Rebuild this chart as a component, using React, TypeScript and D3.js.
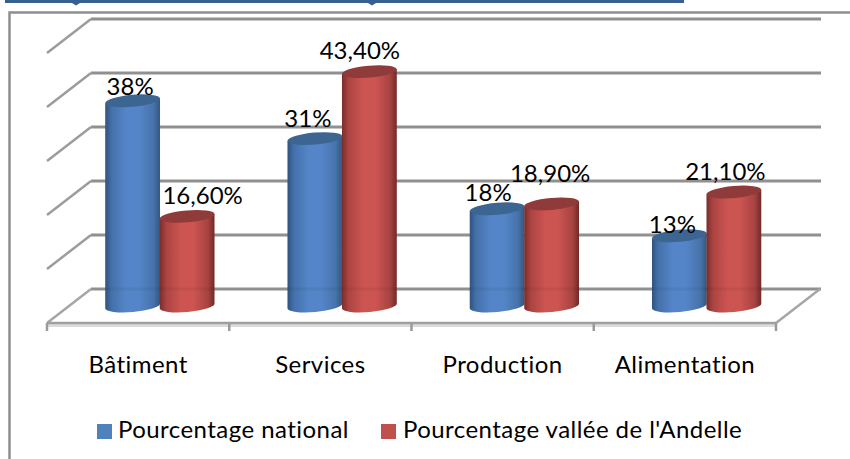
import React from "react";
import * as d3 from "d3";

const categories = ["Bâtiment", "Services", "Production", "Alimentation"];
const seriesNames = ["Pourcentage national", "Pourcentage vallée de l'Andelle"];
const national = [38, 31, 18, 13];
const vallee = [16.6, 43.4, 18.9, 21.1];
const nationalLabels = ["38%", "31%", "18%", "13%"];
const valleeLabels = ["16,60%", "43,40%", "18,90%", "21,10%"];
const gridTicks = [0, 10, 20, 30, 40, 50];

const W = 850, H = 459;
const depthX = 44, depthY = 34;
const floorLeft = 47, floorRight = 776, frontBase = 323;
const x = d3.scaleBand<string>().domain(categories).range([floorLeft, floorRight]);
const yBack = d3.scaleLinear().domain([0, 50]).range([289, 19]);
const yBar = d3.scaleLinear().domain([0, 50]).range([306, 36]);
const rx = 27.5, ry = 6, tilt = -5;

const natOffsets: [number, number][] = [[-2.5, -6], [-7, -12], [-9, -8], [-7, -3]];
const valOffsets: [number, number][] = [[15, -12], [-10, -13], [-2, -22], [-9, -12]];

const FONT = "Lato, 'Open Sans', sans-serif";
const GRID = "#909090";
const textStyle = { fontVariantLigatures: "none", letterSpacing: "0.45px" } as React.CSSProperties;
const labelStyle = { fontVariantLigatures: "none", letterSpacing: "0px" } as React.CSSProperties;

function Cylinder({ cx, value, id, top }: { cx: number; value: number; id: string; top: string }) {
  const yT = yBar(value), yB = yBar(0);
  const t = (tilt * Math.PI) / 180;
  const ex = rx * Math.cos(t), ey = rx * Math.sin(t);
  const path = `M${cx - ex},${yT - ey} L${cx - ex},${yB - ey} A${rx},${ry} ${tilt} 0 0 ${cx + ex},${yB + ey} L${cx + ex},${yT + ey} Z`;
  return (
    <g>
      <path d={path} fill={`url(#${id})`} />
      <line x1={cx - rx} x2={cx + rx} y1={yBack(0)} y2={yBack(0)} stroke="#000" strokeOpacity={0.05} strokeWidth={3} />
      <ellipse cx={cx} cy={yT} rx={rx} ry={ry} transform={`rotate(${tilt} ${cx} ${yT})`} fill={top} />
    </g>
  );
}

function Grad({ id, edge, mid, edge2 }: { id: string; edge: string; mid: string; edge2: string }) {
  return (
    <linearGradient id={id} x1="0" x2="1" y1="0" y2="0">
      <stop offset="0" stopColor={edge} />
      <stop offset="0.12" stopColor={d3.interpolateRgb(edge, mid)(0.6)} />
      <stop offset="0.38" stopColor={mid} />
      <stop offset="0.62" stopColor={mid} />
      <stop offset="0.88" stopColor={d3.interpolateRgb(edge2, mid)(0.6)} />
      <stop offset="1" stopColor={edge2} />
    </linearGradient>
  );
}

export default function App() {
  const bw = x.bandwidth();
  const groupCenter = (c: string) => (x(c) as number) + bw / 2 + depthX / 2;
  const ticksX = [...categories.map((c) => x(c) as number), floorRight];
  return (
    <svg width={W} height={H} viewBox={`0 0 ${W} ${H}`} style={{ position: "fixed", left: 0, top: 0, display: "block", background: "#fff" }}>
      <defs>
        <Grad id="gBlue" edge="#2f5380" mid="#5485c8" edge2="#33587f" />
        <Grad id="gRed" edge="#7a2d2b" mid="#cc5451" edge2="#6f2a28" />
      </defs>

      <rect x={5} y={0} width={679} height={3} fill="#376092" />
      <path d="M72,3 L80,3 L76,5.5 Z M368,3 L376,3 L372,5.5 Z" fill="#376092" />

      <path d={`M9.5,${H} L9.5,12.5 L${W},12.5`} fill="none" stroke="#8e8e8e" strokeWidth={2.5} />

      {gridTicks.map((t) => (
        <g key={t}>
          <line x1={floorLeft + depthX} x2={floorRight + depthX + 1} y1={yBack(t)} y2={yBack(t)} stroke={GRID} strokeWidth={3} />
          {t > 0 && (
            <line x1={floorLeft} y1={yBack(t) + depthY} x2={floorLeft + depthX} y2={yBack(t)} stroke="#9c9c9c" strokeWidth={2.5} />
          )}
        </g>
      ))}

      <line x1={floorLeft} y1={yBack(0) + depthY} x2={floorLeft + depthX} y2={yBack(0)} stroke="#a6a6a6" strokeWidth={2.5} />
      <line x1={floorRight} y1={yBack(0) + depthY} x2={floorRight + depthX} y2={yBack(0)} stroke="#a6a6a6" strokeWidth={2.5} />
      <rect x={floorLeft} y={frontBase + 1} width={floorRight - floorLeft} height={3} fill="#dcdcdc" />
      <line x1={floorLeft} x2={floorRight} y1={frontBase} y2={frontBase} stroke="#a0a0a0" strokeWidth={2.5} />
      {ticksX.map((tx) => (
        <line key={tx} x1={tx} x2={tx} y1={frontBase} y2={frontBase + 8} stroke="#9a9a9a" strokeWidth={2.5} />
      ))}

      {categories.map((c, i) => (
        <g key={c}>
          <Cylinder cx={groupCenter(c) - rx} value={national[i]} id="gBlue" top="#3d6592" />
          <Cylinder cx={groupCenter(c) + rx - 0.5} value={vallee[i]} id="gRed" top="#8f3b39" />
        </g>
      ))}

      <g fontFamily={FONT} fontSize={24} fill="#000" textAnchor="middle" style={labelStyle}>
        {categories.map((c, i) => (
          <g key={c}>
            <text x={groupCenter(c) - rx + natOffsets[i][0]} y={yBar(national[i]) + natOffsets[i][1]}>{nationalLabels[i]}</text>
            <text x={groupCenter(c) + rx + valOffsets[i][0]} y={yBar(vallee[i]) + valOffsets[i][1]}>{valleeLabels[i]}</text>
          </g>
        ))}
      </g>
      <g fontFamily={FONT} fontSize={24} fill="#000" textAnchor="middle" style={textStyle}>
        {categories.map((c) => (
          <text key={c} x={(x(c) as number) + bw / 2} y={372.5}>{c}</text>
        ))}
      </g>

      <g fontFamily={FONT} fontSize={24} fill="#000" style={textStyle}>
        <rect x={97} y={424} width={15} height={15} fill="#4f81bd" />
        <text x={118} y={438}>{seriesNames[0]}</text>
        <rect x={381} y={424} width={15} height={15} fill="#c0504d" />
        <text x={403} y={438}>{seriesNames[1]}</text>
      </g>
    </svg>
  );
}
